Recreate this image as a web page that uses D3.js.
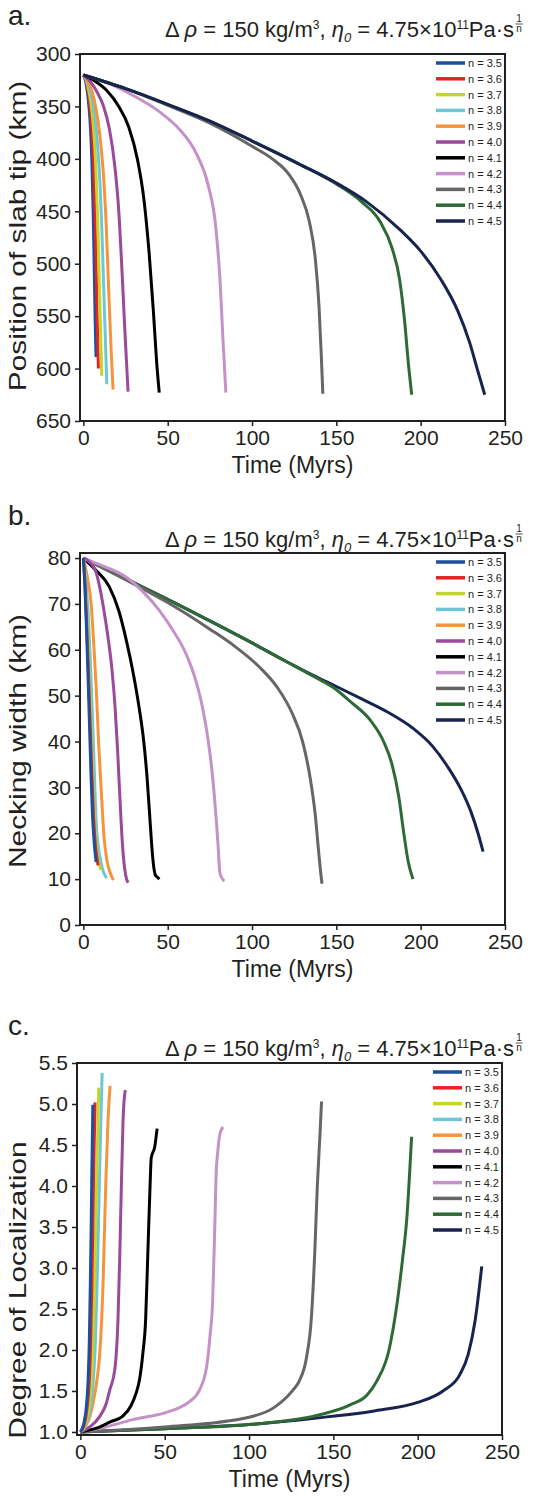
<!DOCTYPE html>
<html>
<head>
<meta charset="utf-8">
<script src="https://cdn.jsdelivr.net/npm/d3@7"></script>
<style>
  body { margin: 0; background: #fff; }
  svg { display: block; }
  text { font-family: Arial, "Liberation Sans", sans-serif; fill: #231f20; }
</style>
</head>
<body>
<svg id="chart" width="533" height="1496"></svg>
<script>
// Series labels and colours (n = stress exponent)
var nLabels = ["n = 3.5", "n = 3.6", "n = 3.7", "n = 3.8", "n = 3.9", "n = 4.0",
               "n = 4.1", "n = 4.2", "n = 4.3", "n = 4.4", "n = 4.5"];
var colors = ["#1d4f9f", "#e8231f", "#c3d52b", "#6ec6d6", "#f6943c", "#9a4a9b",
              "#000000", "#c492c8", "#666666", "#2e6a35", "#18244f"];
var timeTicks = [0, 50, 100, 150, 200, 250];

// a. position of slab tip (km) vs time (Myrs)
var tipTicks = [300, 350, 400, 450, 500, 550, 600, 650];
var slabTip = [
  [[0,320],[1,324],[2,332],[3,345],[4,365],[5,400],[5.8,450],[6.5,510],[7,555],[7.5,589]],
  [[0,320],[1.2,324],[2.4,332],[3.6,345],[4.8,366],[6,402],[6.9,452],[7.7,512],[8.3,560],[8.9,600]],
  [[0,320],[1.5,324],[3,333],[4.5,347],[6,370],[7.3,405],[8.4,455],[9.4,515],[10.2,565],[10.9,607]],
  [[0,320],[2,325],[4,335],[6,350],[7.8,375],[9.4,410],[10.8,460],[12,520],[13,570],[13.9,615]],
  [[0,320],[2.5,325],[5,335],[7.5,352],[9.8,378],[11.9,415],[13.6,465],[15,525],[16.4,580],[17.6,620]],
  [[0,320],[4,326],[8,336],[12,350],[15.5,372],[18.5,405],[21,450],[23,510],[24.8,570],[26.5,622]],
  [[0,320],[7,326],[14,335],[21,350],[27,370],[32,400],[36,440],[39,490],[41.5,545],[43.5,595],[45,623]],
  [[0,320],[15,328],[30,340],[45,355],[57,372],[67,395],[74,425],[78.5,465],[81,515],[82.7,570],[84.5,623]],
  [[0,320],[25,333],[50,349],[75,366],[100,388],[112,400],[122,415],[129,435],[134,460],[137.5,495],[139.7,540],[141,585],[142,624]],
  [[0,320],[25,333],[50,348],[75,364],[100,383],[128,405],[150,424],[165,441],[176,460],[183,485],[187.5,515],[190.5,555],[192.7,595],[194.7,625]],
  [[0,320],[25,333],[50,348],[75,364],[100,383],[128,405],[150,423],[168,441],[188,468],[200,488],[212,515],[222,545],[229,575],[234,603],[238,625]]
];

// b. necking width (km) vs time (Myrs)
var neckTicks = [0, 10, 20, 30, 40, 50, 60, 70, 80];
var neckWidth = [
  [[0,80],[0.9,74],[1.8,65],[2.7,55],[3.6,44],[4.5,33],[5.4,24],[6.3,18.5],[7,15.5],[7.6,13.7]],
  [[0,80],[1,74],[2,65],[3,55],[4,44],[5,33],[6,24],[7,18],[7.9,15],[8.7,13]],
  [[0,80],[1.2,74],[2.5,64],[3.5,54],[4.5,43],[5.5,32],[6.5,23],[7.7,17],[9,13.8],[10.5,12]],
  [[0,80],[1.5,75],[3.1,66],[4.3,56],[5.5,44.6],[6.5,33.5],[7.5,22.9],[8.9,17],[10.5,13.5],[12.2,11.3],[13.8,10.2]],
  [[0,80],[2,76.5],[4.6,70],[6.2,61],[7.6,51.8],[9,40],[10.5,30],[12.3,19],[14,14],[16,11.3],[17.8,9.8]],
  [[0,80],[4,79],[7.4,77],[9.5,74],[12,69],[14.5,63],[17,55.5],[18.8,47.5],[20.3,38],[21.5,29],[22.6,21],[23.7,15],[25,11],[26.5,9.2]],
  [[0,80],[7,77.5],[15.4,73.7],[21,68.5],[25.5,62],[29.5,55],[33,47.5],[35.8,40],[37.8,32],[39.3,24],[40.5,17.5],[41.6,13],[42.8,10.8],[44,10.4],[45,10]],
  [[0,80],[10,78.5],[25.5,75.8],[35,72.8],[45,68.6],[53,64.3],[61,59],[66.5,53.5],[70.6,47.5],[73.7,41],[76,34.5],[77.7,28],[79,22],[80.1,16],[80.9,11.5],[82,10.3],[83.7,9.6]],
  [[0,80],[25,75.3],[50,70.3],[75,64.5],[90,60.7],[104.5,56.2],[115,51.8],[124,46],[130,40],[134.5,32],[137.5,24],[139.5,16],[140.7,11.5],[141.5,9]],
  [[0,80],[25,75.5],[50,71],[75,66.3],[100,61.5],[120,57.5],[136,54.3],[150,51.3],[158,48.8],[170,44.7],[178,40],[183,35],[187,28],[190,20],[192.5,14],[195.4,10]],
  [[0,80],[25,75.5],[50,71],[75,66.3],[100,61.5],[120,57.5],[136,54.5],[150,52],[165,49.3],[180,46.5],[195,43],[207,39],[216,34.5],[224,29.5],[230,24.5],[234,20],[237,16]]
];

// c. degree of localization vs time (Myrs)
var locTicks = [1.0, 1.5, 2.0, 2.5, 3.0, 3.5, 4.0, 4.5, 5.0, 5.5];
var localization = [
  [[0,1],[2,1.1],[3.5,1.3],[4.5,1.6],[5.3,2.1],[5.9,2.8],[6.4,3.5],[6.9,4.3],[7.4,4.99]],
  [[0,1],[2.4,1.1],[4,1.3],[5.2,1.6],[6.1,2.1],[6.8,2.8],[7.4,3.5],[8,4.3],[8.7,5.02]],
  [[0,1],[3,1.1],[5,1.3],[6.4,1.6],[7.5,2.1],[8.4,2.8],[9.2,3.6],[10,4.4],[10.9,5.2]],
  [[0,1],[3.5,1.1],[6,1.3],[7.6,1.6],[8.9,2.1],[9.9,2.8],[10.8,3.6],[11.8,4.5],[12.9,5.38]],
  [[0,1],[3,1.07],[5.5,1.18],[7.5,1.35],[9.6,1.6],[11.5,1.96],[13.4,2.77],[15,3.99],[16.4,4.8],[17.6,5.22]],
  [[0,1],[5.5,1.06],[11.5,1.19],[15.4,1.35],[17.4,1.51],[20.4,1.76],[22.3,2.37],[23.4,3.18],[24.3,3.99],[25.3,4.8],[26.6,5.17]],
  [[0,1],[11.3,1.06],[17.4,1.12],[25,1.19],[30,1.32],[33,1.47],[35,1.63],[37,1.95],[38.7,2.37],[40,3.18],[41.3,3.99],[42,4.34],[44.1,4.48],[45.5,4.7]],
  [[0,1],[15,1.06],[31,1.15],[49.5,1.23],[58,1.29],[64.7,1.37],[70.6,1.51],[74.9,1.8],[77,2.2],[78.4,2.57],[79.8,3.59],[80.6,4.2],[81.2,4.36],[82.8,4.64],[84.6,4.72]],
  [[0,1],[50,1.06],[100,1.18],[115,1.3],[126,1.51],[130,1.63],[134,1.9],[137,2.4],[139,3.2],[140.5,4],[142,4.6],[143,5.03]],
  [[0,1],[50,1.04],[100,1.09],[140,1.2],[160,1.33],[170,1.45],[176,1.63],[183,2],[188,2.6],[191,3.1],[193.5,3.59],[196.4,4.6]],
  [[0,1],[50,1.04],[100,1.09],[140,1.17],[175,1.26],[200,1.36],[215,1.5],[225,1.7],[230,1.95],[234,2.35],[238,3.02]]
];

var svg = d3.select("#chart");

function drawTitle(g, x, y) {
  var t = g.append("text").attr("x", x).attr("y", y).style("font-size", "22px");
  t.append("tspan").text("\u0394 ");
  t.append("tspan").style("font-style", "italic").text("\u03c1");
  t.append("tspan").text(" = 150 kg/m");
  t.append("tspan").attr("dy", -8).style("font-size", "12px").text("3");
  t.append("tspan").attr("dy", 8).text(", ");
  t.append("tspan").style("font-style", "italic").text("\u03b7");
  t.append("tspan").attr("dy", 5).style("font-style", "italic").style("font-size", "13px").text("0");
  t.append("tspan").attr("dy", -5).text(" = 4.75\u00d710");
  t.append("tspan").attr("dy", -8).style("font-size", "12px").text("11");
  t.append("tspan").attr("dy", 8).text("Pa\u00b7s");
  var w = t.node().getComputedTextLength();
  var fx = x + w + 5;
  g.append("text").attr("x", fx).attr("y", y - 15).attr("text-anchor", "middle")
    .style("font-size", "10px").text("1");
  g.append("line").attr("x1", fx - 3.5).attr("x2", fx + 3.5).attr("y1", y - 13).attr("y2", y - 13)
    .attr("stroke", "#231f20").attr("stroke-width", 0.8);
  g.append("text").attr("x", fx).attr("y", y - 5).attr("text-anchor", "middle")
    .style("font-size", "10px").text("n");
}

function drawPanel(p) {
  var g = svg.append("g");
  var x = d3.scaleLinear().domain([-2, 250]).range([p.left, p.right]);
  var y = d3.scaleLinear().domain(p.yDomain).range(p.yRange);

  // letter + title
  g.append("text").attr("x", 8).attr("y", p.top + p.letterDy).style("font-size", "28px").text(p.letter);
  drawTitle(g, 165, p.top + p.titleDy);

  // axes
  var xAxis = d3.axisBottom(x).tickValues(timeTicks).tickSize(5).tickPadding(4);
  var gx = g.append("g").attr("transform", "translate(0," + p.bottom + ")").call(xAxis);
  gx.select(".domain").remove();
  gx.selectAll("line").attr("stroke", "#231f20").attr("stroke-width", 1.5);
  gx.selectAll("text").style("font-size", "21px").attr("fill", "#231f20");

  var yAxis = d3.axisLeft(y).tickValues(p.yTicks).tickSize(5).tickPadding(4).tickFormat(p.fmt);
  var gy = g.append("g").attr("transform", "translate(" + p.left + ",0)").call(yAxis);
  gy.select(".domain").remove();
  gy.selectAll("line").attr("stroke", "#231f20").attr("stroke-width", 1.5);
  gy.selectAll("text").style("font-size", "21px").attr("fill", "#231f20");

  // axis titles (y title is stretched along its length like the source figure)
  g.append("text").attr("x", (p.left + p.right) / 2).attr("y", p.bottom + 52)
    .attr("text-anchor", "middle").style("font-size", "23px").text("Time (Myrs)");
  g.append("text")
    .attr("transform", "translate(" + 26 + "," + p.yTitleMid + ") rotate(-90) scale(1.3,1)")
    .attr("text-anchor", "middle").style("font-size", "23px").text(p.yTitle);

  // curves
  var line = d3.line().x(function(d) { return x(d[0]); }).y(function(d) { return y(d[1]); })
    .curve(d3.curveMonotoneX);
  g.append("g").selectAll("path").data(p.order).enter().append("path")
    .attr("d", function(i) { return line(p.data[i]); })
    .attr("fill", "none")
    .attr("stroke", function(i) { return colors[i]; })
    .attr("stroke-width", 3);

  // frame
  g.append("rect").attr("x", p.left).attr("y", p.top)
    .attr("width", p.right - p.left).attr("height", p.bottom - p.top)
    .attr("fill", "none").attr("stroke", "#231f20").attr("stroke-width", 2);

  // legend
  var lg = g.append("g").attr("transform", "translate(" + (p.right - 69) + "," + (p.top + 9) + ")");
  nLabels.forEach(function(lab, i) {
    lg.append("line").attr("x1", 0).attr("x2", 29).attr("y1", i * 15.8).attr("y2", i * 15.8)
      .attr("stroke", colors[i]).attr("stroke-width", 3.5);
    lg.append("text").attr("x", 32).attr("y", i * 15.8 + 4).style("font-size", "11px").text(lab);
  });
}

var fwd = d3.range(11);
var rev = d3.range(11).reverse();

drawPanel({ letter: "a.", left: 80, right: 505, top: 54, bottom: 421,
  yDomain: [300, 650], yRange: [54, 421], yTicks: tipTicks, fmt: d3.format("d"),
  yTitle: "Position of slab tip (km)", yTitleMid: 236,
  data: slabTip, order: fwd, letterDy: -29, titleDy: -17 });

drawPanel({ letter: "b.", left: 80, right: 505, top: 553, bottom: 925,
  yDomain: [0, 81.1], yRange: [925, 553], yTicks: neckTicks, fmt: d3.format("d"),
  yTitle: "Necking width (km)", yTitleMid: 741,
  data: neckWidth, order: rev, letterDy: -28, titleDy: -6 });

drawPanel({ letter: "c.", left: 77, right: 502, top: 1063, bottom: 1435,
  yDomain: [0.963, 5.5], yRange: [1435, 1063], yTicks: locTicks, fmt: d3.format(".1f"),
  yTitle: "Degree of Localization", yTitleMid: 1290,
  data: localization, order: rev, letterDy: -28, titleDy: -7 });
</script>
</body>
</html>
